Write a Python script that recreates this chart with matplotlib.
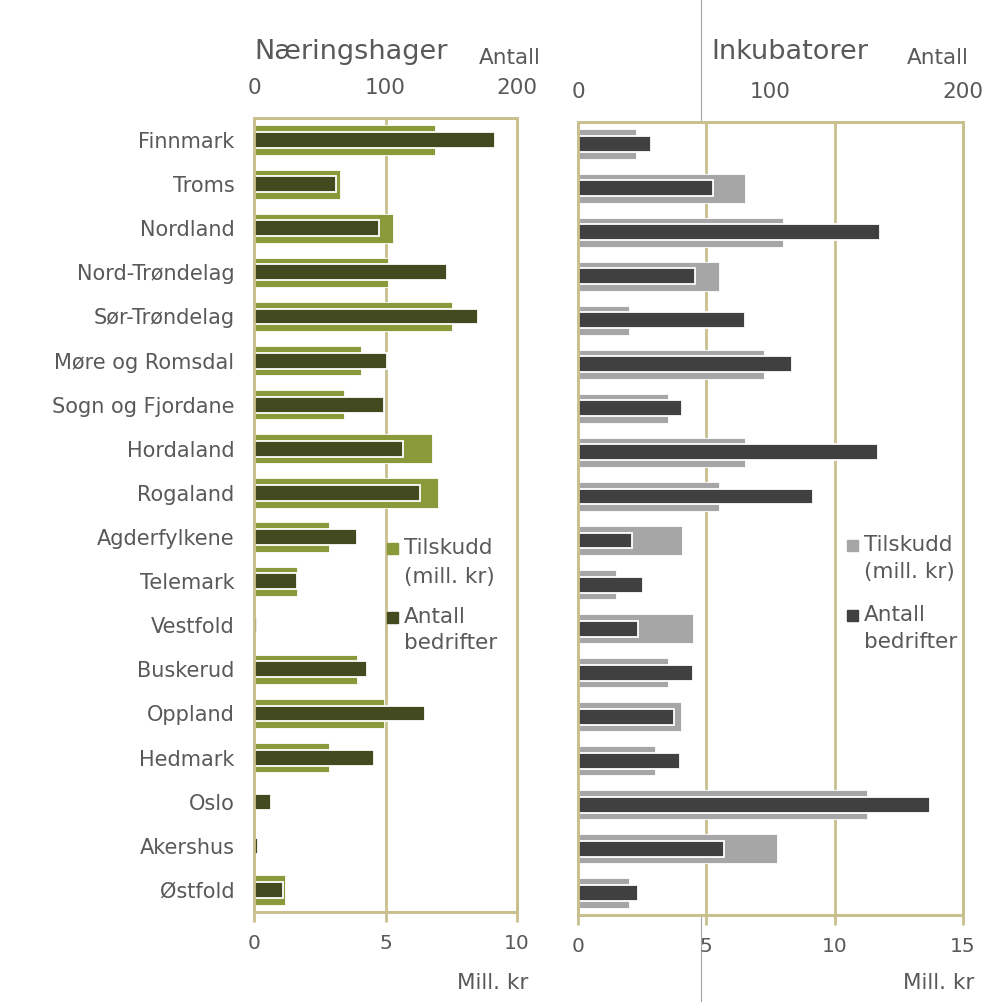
import matplotlib
matplotlib.use("Agg")
import matplotlib.pyplot as plt
from matplotlib.patches import Rectangle
from matplotlib.lines import Line2D

categories = ["Finnmark", "Troms", "Nordland", "Nord-Trøndelag", "Sør-Trøndelag",
              "Møre og Romsdal", "Sogn og Fjordane", "Hordaland", "Rogaland",
              "Agderfylkene", "Telemark", "Vestfold", "Buskerud", "Oppland",
              "Hedmark", "Oslo", "Akershus", "Østfold"]

# Næringshager
nh_tilskudd = [6.9, 3.27, 5.28, 5.09, 7.53, 4.07, 3.42, 6.76, 7.0,
               2.84, 1.62, 0.0, 3.92, 4.96, 2.84, 0.0, 0.0, 1.17]
nh_antall = [183, 62, 95, 147, 170, 101, 99, 113, 126,
             78, 33, 2, 86, 130, 91, 13, 3, 22]

# Inkubatorer
ink_tilskudd = [2.26, 6.5, 8.0, 5.5, 2.0, 7.25, 3.5, 6.5, 5.5,
                4.05, 1.5, 4.5, 3.5, 4.0, 3.0, 11.25, 7.75, 2.0]
ink_antall = [38, 70, 157, 61, 87, 111, 54, 156, 122,
              28, 34, 31, 60, 50, 53, 183, 76, 31]

left_ticks_mill = [0, 5, 10]
right_ticks_mill = [0, 5, 10, 15]
antall_ticks = [0, 100, 200]

W, H = 987, 1002
fig = plt.figure(figsize=(W / 100, H / 100), dpi=100)

def fx(x):
    return x / W

def fy(y):
    return 1 - y / H

TXT = "#595959"
FRAME = "#c9c08e"

# thin gray vertical line spanning the figure (behind the plots)
fig.add_artist(Line2D([fx(701.5), fx(701.5)], [0, 1], color="#a6a6a6", lw=0.8, zorder=0))

def style_spines(a, visible=True):
    for s in a.spines.values():
        s.set_visible(visible)
        s.set_color(FRAME)
        s.set_linewidth(2.0)
        s.set_zorder(6)

def panel(x0, x1, y0, y1, tilskudd, antall, xmax, mticks, c_t, c_a, title,
          title_x, antall_x, mill_right, show_labels):
    ax = fig.add_axes([fx(x0), fy(y1), fx(x1) - fx(x0), fy(y0) - fy(y1)], zorder=2)
    ax.set_facecolor("white")
    n = len(categories)
    ypos = list(range(n))
    edges = ["white" if v > 0 else "none" for v in tilskudd]
    ax.barh(ypos, tilskudd, height=0.66, color=c_t, edgecolor=edges, linewidth=0.6, zorder=3)
    ax.set_xlim(0, xmax)
    ax.set_ylim(n - 0.5, -0.5)
    ax.set_xticks(mticks)
    ax.set_xticklabels([str(t) for t in mticks])
    ax.tick_params(axis="x", direction="out", length=7, width=2.0, color=FRAME,
                   pad=9, labelsize=14.5, labelcolor=TXT)
    ax.set_yticks(ypos)
    if show_labels:
        ax.set_yticklabels(categories)
        ax.tick_params(axis="y", length=0, pad=14, labelsize=15, labelcolor=TXT)
    else:
        ax.set_yticklabels([])
        ax.tick_params(axis="y", length=0)
    for v in mticks[1:-1]:
        ax.axvline(v, color=FRAME, lw=2.0, zorder=1)
    style_spines(ax)

    ax2 = ax.twiny()
    ax2.barh(ypos, antall, height=0.36, color=c_a, edgecolor="white", linewidth=1.3, zorder=4)
    ax2.set_xlim(0, 200)
    ax2.set_ylim(n - 0.5, -0.5)
    ax2.set_xticks(antall_ticks)
    ax2.set_xticklabels([str(t) for t in antall_ticks])
    ax2.tick_params(axis="x", length=0, pad=14.5, labelsize=15.5, labelcolor=TXT)
    style_spines(ax2)

    fig.text(fx(title_x), fy(52), title, fontsize=19.5, color=TXT, ha="left", va="center")
    fig.text(fx(antall_x), fy(58), "Antall", fontsize=15.5, color=TXT, ha="left", va="center")
    fig.text(fx(mill_right), fy(983), "Mill. kr", fontsize=15.5, color=TXT, ha="right", va="center")
    return ax, ax2

panel(254, 517, 118, 912, nh_tilskudd, nh_antall, 10, left_ticks_mill,
      "#8a9a3a", "#434a1f", "Næringshager", 254, 479, 528, True)
panel(578, 963, 122, 915, ink_tilskudd, ink_antall, 15, right_ticks_mill,
      "#a6a6a6", "#404040", "Inkubatorer", 711, 907, 974, False)

# legends
def legend(xsq, xtxt, ys, c_t, c_a):
    sq = 11
    for (y1, y2), c, l1, l2 in [((ys[0], ys[1]), c_t, "Tilskudd", "(mill. kr)"),
                                ((ys[2], ys[3]), c_a, "Antall", "bedrifter")]:
        fig.add_artist(Rectangle((fx(xsq), fy(y1 + sq / 2)), sq / W, sq / H,
                                 color=c, zorder=10))
        fig.text(fx(xtxt), fy(y1), l1, fontsize=15.5, color=TXT, ha="left", va="center", zorder=10)
        fig.text(fx(xtxt), fy(y2), l2, fontsize=15.5, color=TXT, ha="left", va="center", zorder=10)

legend(387, 404, [548, 577, 617, 643], "#8a9a3a", "#434a1f")
legend(847, 864, [545, 572, 615, 642], "#a6a6a6", "#404040")

fig.savefig("out.png", dpi=100, facecolor="white")
